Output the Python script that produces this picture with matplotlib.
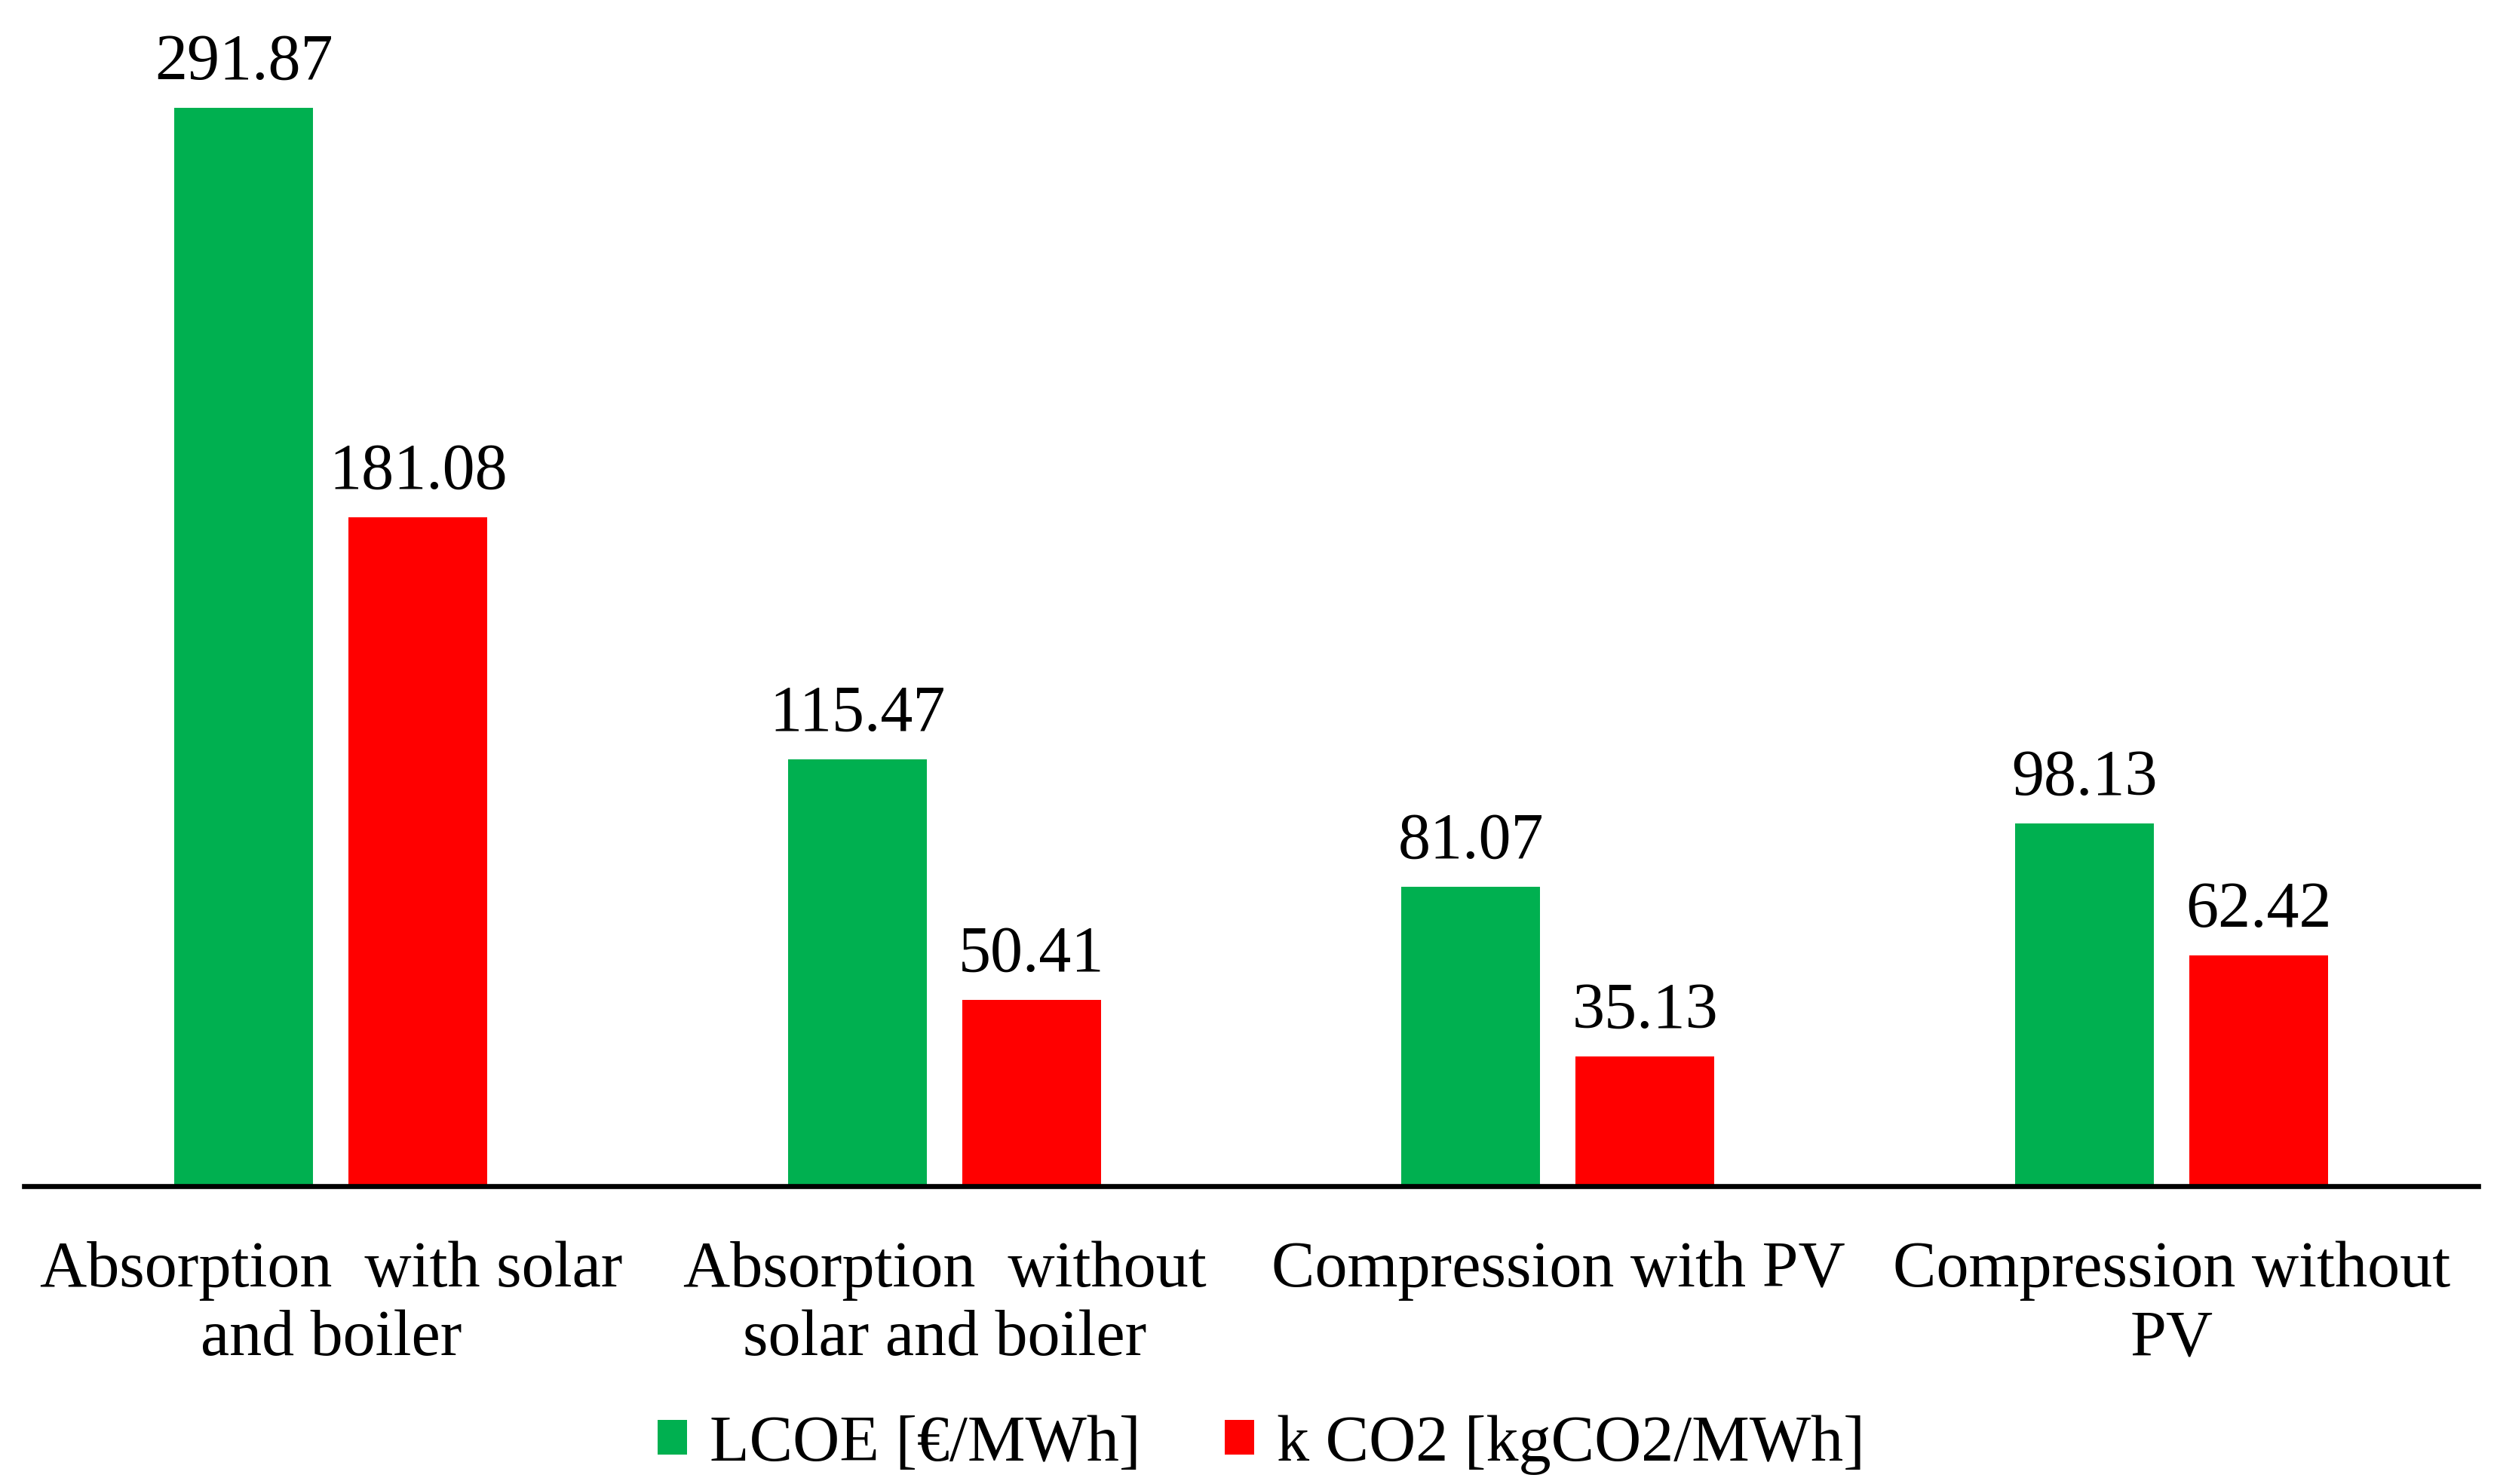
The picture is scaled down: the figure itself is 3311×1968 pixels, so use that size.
import numpy as np
import matplotlib
matplotlib.use("Agg")
import matplotlib.pyplot as plt

# chart data
categories = ["Absorption  with solar\nand boiler",
              "Absorption  without\nsolar and boiler",
              "Compression with PV",
              "Compression without\nPV"]
lcoe = [291.87, 115.47, 81.07, 98.13]
kco2 = [181.08, 50.41, 35.13, 62.42]
series_names = ["LCOE [€/MWh]", "k CO2 [kgCO2/MWh]"]

plt.rcParams["font.family"] = ["Liberation Serif", "DejaVu Serif"]
FS = 31

fig = plt.figure(figsize=(16.56, 9.84), dpi=200)
ax = fig.add_axes([0.0097, 0.2007, 0.9825, 0.747])

x = np.arange(len(categories))
w = 0.226
off = 0.142
b1 = ax.bar(x - off, lcoe, w, color="#00B050", label=series_names[0])
b2 = ax.bar(x + off, kco2, w, color="#FF0000", label=series_names[1])

for bars, vals in ((b1, lcoe), (b2, kco2)):
    for r, v in zip(bars, vals):
        ax.annotate(f"{v:.2f}", (r.get_x() + r.get_width() / 2, v),
                    xytext=(0, 7), textcoords="offset points",
                    ha="center", va="bottom", fontsize=FS)

ax.set_xlim(-0.5, 3.5)
ax.set_ylim(0, 300)
ax.set_yticks([])
ax.set_xticks(x)
ax.set_xticklabels(categories, fontsize=FS, linespacing=1.2)
ax.tick_params(axis="x", length=0, pad=26)
for s in ("top", "left", "right"):
    ax.spines[s].set_visible(False)
ax.spines["bottom"].set_linewidth(2.4)

fig.legend(loc="center", bbox_to_anchor=(0.505, 0.0265), ncol=2, frameon=False,
           fontsize=FS, handlelength=0.45, handleheight=0.45, handletextpad=0.35,
           columnspacing=1.3)

fig.savefig("out.png", dpi=200)
